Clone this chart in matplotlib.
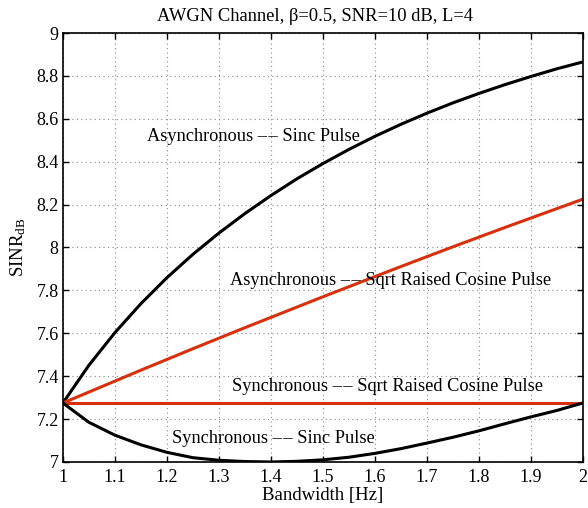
import matplotlib
matplotlib.use("Agg")
import matplotlib.pyplot as plt

bw = [1.0, 1.05, 1.1, 1.15, 1.2, 1.25, 1.3, 1.35, 1.4, 1.45, 1.5,
      1.55, 1.6, 1.65, 1.7, 1.75, 1.8, 1.85, 1.9, 1.95, 2.0]
async_sinc = [7.275, 7.451, 7.603, 7.738, 7.859, 7.968, 8.067, 8.158, 8.242, 8.320, 8.391,
              8.457, 8.518, 8.574, 8.626, 8.674, 8.718, 8.759, 8.797, 8.833, 8.865]
async_srrc = [7.275, 7.326, 7.377, 7.428, 7.478, 7.528, 7.577, 7.626, 7.674, 7.722, 7.770,
              7.817, 7.864, 7.911, 7.957, 8.003, 8.048, 8.093, 8.137, 8.181, 8.225]
sync_srrc = [7.275, 7.275, 7.275, 7.275, 7.275, 7.275, 7.275, 7.275, 7.275, 7.275, 7.275,
             7.275, 7.275, 7.275, 7.275, 7.275, 7.275, 7.275, 7.275, 7.275, 7.275]
sync_sinc = [7.275, 7.185, 7.125, 7.08, 7.045, 7.02, 7.008, 7.002, 7.0, 7.003, 7.01,
             7.022, 7.04, 7.062, 7.088, 7.115, 7.145, 7.178, 7.21, 7.24, 7.275]

xticks = [1, 1.1, 1.2, 1.3, 1.4, 1.5, 1.6, 1.7, 1.8, 1.9, 2]
xticklabels = ["1", "1.1", "1.2", "1.3", "1.4", "1.5", "1.6", "1.7", "1.8", "1.9", "2"]
yticks = [7, 7.2, 7.4, 7.6, 7.8, 8, 8.2, 8.4, 8.6, 8.8, 9]
yticklabels = ["7", "7.2", "7.4", "7.6", "7.8", "8", "8.2", "8.4", "8.6", "8.8", "9"]

DASH = "\u2013\u200a\u2013"
labels = ["Asynchronous " + DASH + " Sinc Pulse",
          "Asynchronous " + DASH + " Sqrt Raised Cosine Pulse",
          "Synchronous " + DASH + " Sqrt Raised Cosine Pulse",
          "Synchronous " + DASH + " Sinc Pulse"]
label_pos = [(1.1615, 8.495), (1.321, 7.825), (1.325, 7.331), (1.2096, 7.089)]

plt.rcParams['font.family'] = ['Liberation Serif', 'DejaVu Serif']
plt.rcParams['mathtext.fontset'] = 'custom'
plt.rcParams['mathtext.rm'] = 'Liberation Serif'
plt.rcParams['mathtext.it'] = 'Liberation Serif'

fig = plt.figure(figsize=(5.88, 5.08), dpi=100)
ax = fig.add_axes([0.107, 0.0906, 0.884, 0.8444])

red = '#d8300c'
lw = 2.2
ax.plot(bw, async_sinc, color='black', lw=lw)
ax.plot(bw, async_srrc, color=red, lw=lw)
ax.plot(bw, sync_srrc, color=red, lw=lw)
ax.plot(bw, sync_sinc, color='black', lw=lw)

ax.set_xlim(1, 2)
ax.set_ylim(7, 9)
ax.set_xticks(xticks)
ax.set_xticklabels(xticklabels)
ax.set_yticks(yticks)
ax.set_yticklabels(yticklabels)
ax.tick_params(direction='in', top=True, right=True, labelsize=13, length=4, width=1)
ax.tick_params(axis='x', pad=5)
ax.tick_params(axis='y', pad=3)
ax.grid(True, linestyle=(0, (1, 3)), color='#888888', linewidth=0.8)
for s in ax.spines.values():
    s.set_linewidth(1.2)

fs = 13.25
for txt, (x, y) in zip(labels, label_pos):
    ax.text(x, y, txt, ha='left', va='baseline', fontsize=fs)

ax.set_title("AWGN Channel, β=0.5, SNR=10 dB, L=4", fontsize=13.3, pad=9, x=0.4856)
ax.set_xlabel("Bandwidth [Hz]", fontsize=13.5, labelpad=1)
ax.set_ylabel(r"SINR$_{\mathrm{dB}}$", fontsize=13.5, labelpad=6)

fig.savefig("out.png", dpi=100)
